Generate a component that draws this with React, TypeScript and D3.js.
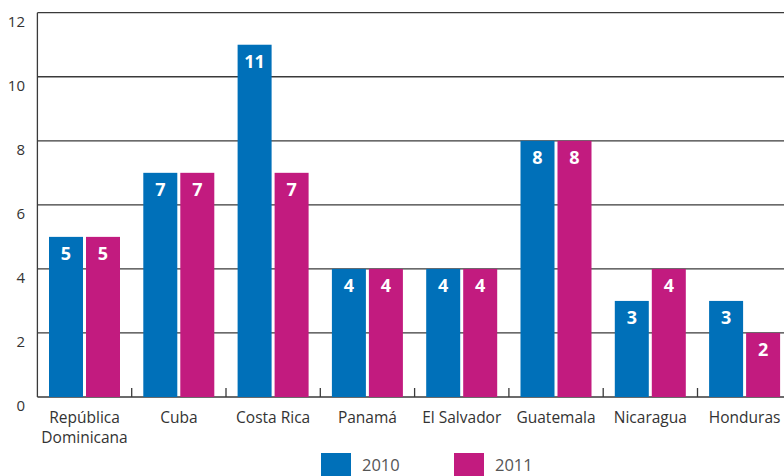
import React from "react";
import * as d3 from "d3";

const categories = [
  ["República", "Dominicana"],
  ["Cuba"],
  ["Costa Rica"],
  ["Panamá"],
  ["El Salvador"],
  ["Guatemala"],
  ["Nicaragua"],
  ["Honduras"],
];
const values2010 = [5, 7, 11, 4, 4, 8, 3, 3];
const values2011 = [5, 7, 7, 4, 4, 8, 4, 2];
const seriesNames = ["2010", "2011"];
const yTicks = [0, 2, 4, 6, 8, 10, 12];

const W = 784;
const H = 476;
const BLUE = "#0070b9";
const MAGENTA = "#c21b7f";
const FONT = "'Open Sans', 'Noto Sans', sans-serif";

export default function App() {
  const left = 37.4;
  const groupW = 94.3;
  const x0 = d3
    .scaleBand<number>()
    .domain(d3.range(categories.length))
    .range([left, left + groupW * categories.length])
    .paddingInner(0)
    .paddingOuter(0);
  const x1 = d3
    .scaleBand<string>()
    .domain(seriesNames)
    .range([11.6, 11.6 + 71])
    .paddingInner(3 / 37)
    .paddingOuter(0);
  const y = d3.scaleLinear().domain([0, 12]).range([397, 12.7]);
  const series = [values2010, values2011];
  const colors = [BLUE, MAGENTA];

  return (
    <svg
      width={W}
      height={H}
      style={{ position: "absolute", left: 0, top: 0, background: "#fff" }}
      fontFamily={FONT}
    >
      {yTicks.map((t) => (
        <line
          key={"g" + t}
          x1={left}
          x2={W + 20}
          y1={y(t)}
          y2={y(t)}
          stroke="#3a3a3a"
          strokeWidth={1.3}
        />
      ))}
      <line x1={left} x2={left} y1={y(12)} y2={y(0)} stroke="#3a3a3a" strokeWidth={1.3} />
      {yTicks.map((t) => (
        <text
          key={"yl" + t}
          x={25}
          y={y(t) + 14}
          textAnchor="end"
          fontSize={15}
          fill="#333"
        >
          {t}
        </text>
      ))}
      {d3.range(1, categories.length + 1).map((i) => (
        <line
          key={"tk" + i}
          x1={left + i * groupW}
          x2={left + i * groupW}
          y1={y(0)}
          y2={y(0) - 9}
          stroke="#3a3a3a"
          strokeWidth={1.3}
        />
      ))}
      {categories.map((_, i) =>
        series.map((vals, s) => {
          const bx = (x0(i) as number) + (x1(seriesNames[s]) as number);
          const bw = x1.bandwidth();
          const by = y(vals[i]);
          return (
            <g key={"b" + i + "-" + s}>
              <rect x={bx} y={by} width={bw} height={y(0) - by} fill={colors[s]} />
              <text
                x={bx + bw / 2}
                y={by + 23.5}
                textAnchor="middle"
                fontSize={18}
                fontWeight="bold"
                fill="#fff"
              >
                {vals[i]}
              </text>
            </g>
          );
        })
      )}
      {categories.map((lines, i) => (
        <text
          key={"c" + i}
          x={(x0(i) as number) + groupW / 2}
          y={422.5}
          textAnchor="middle"
          fontSize={15.5}
          fill="#333"
        >
          {lines.map((l, k) => (
            <tspan key={k} x={(x0(i) as number) + groupW / 2} dy={k === 0 ? 0 : 20}>
              {l}
            </tspan>
          ))}
        </text>
      ))}
      {seriesNames.map((n, s) => {
        const lx = s === 0 ? 321 : 454;
        return (
          <g key={"lg" + s}>
            <rect x={lx} y={453} width={30} height={30} fill={colors[s]} />
            <text x={lx + 41} y={471} fontSize={16.5} fill="#555">
              {n}
            </text>
          </g>
        );
      })}
    </svg>
  );
}
